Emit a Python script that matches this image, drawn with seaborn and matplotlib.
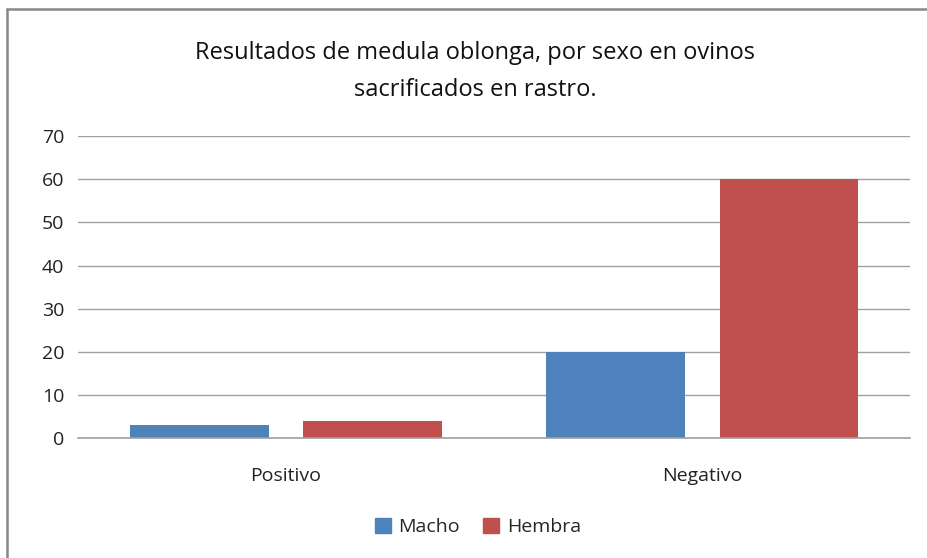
import matplotlib
matplotlib.use("Agg")
import matplotlib.pyplot as plt
import seaborn as sns
import pandas as pd
from matplotlib.patches import Rectangle
from matplotlib.lines import Line2D

categories = ["Positivo", "Negativo"]
macho = [3, 20]
hembra = [4, 60]
series = ["Macho", "Hembra"]
colors = ["#4F81BD", "#C0504D"]

df = pd.DataFrame({
    "cat": categories * 2,
    "sexo": ["Macho"] * 2 + ["Hembra"] * 2,
    "val": macho + hembra,
})

sns.set_theme(style="white")
plt.rcParams['font.family'] = ['Open Sans', 'DejaVu Sans']

fig = plt.figure(figsize=(9.28, 5.58), dpi=100)
ax = fig.add_axes([0.084, 0.215, 0.897, 0.541])
sns.barplot(data=df, x="cat", y="val", hue="sexo", order=categories, hue_order=series,
            palette=colors, width=0.832, gap=0.2, ax=ax, saturation=1, legend=False,
            linewidth=0, edgecolor="none")
ax.set_xlim(-0.5, 1.5)
ax.set_ylim(0, 70)
ax.set_yticks(range(0, 71, 10))
ax.yaxis.grid(True, color="#A0A0A0", linewidth=1)
ax.set_axisbelow(True)
for s in ["top", "right", "left"]:
    ax.spines[s].set_visible(False)
ax.spines["bottom"].set_color("#A0A0A0")
ax.spines["bottom"].set_linewidth(1.2)
ax.set_xlabel("")
ax.set_ylabel("")
ax.tick_params(axis="both", labelsize=14, colors="#222222", length=0, pad=10)
ax.tick_params(axis="x", pad=21)

fig.text(0.512, 0.872, "Resultados de medula oblonga, por sexo en ovinos\nsacrificados en rastro.",
         ha="center", va="center", fontsize=17, color="#111111", linespacing=1.7)

handles = [Rectangle((0, 0), 1, 1, color=c) for c in colors]
fig.legend(handles, series, loc="center", bbox_to_anchor=(0.515, 0.055), ncol=2, frameon=False,
           fontsize=14, handlelength=0.8, handleheight=0.8, columnspacing=1.2, handletextpad=0.4)

fig.lines.append(Line2D([7 / 928, 1.0], [1 - 8.5 / 558] * 2, transform=fig.transFigure,
                        color="#888888", linewidth=1.8))
fig.lines.append(Line2D([7 / 928] * 2, [0, 1 - 8.5 / 558], transform=fig.transFigure,
                        color="#888888", linewidth=1.8))

fig.savefig("out.png", dpi=100)
